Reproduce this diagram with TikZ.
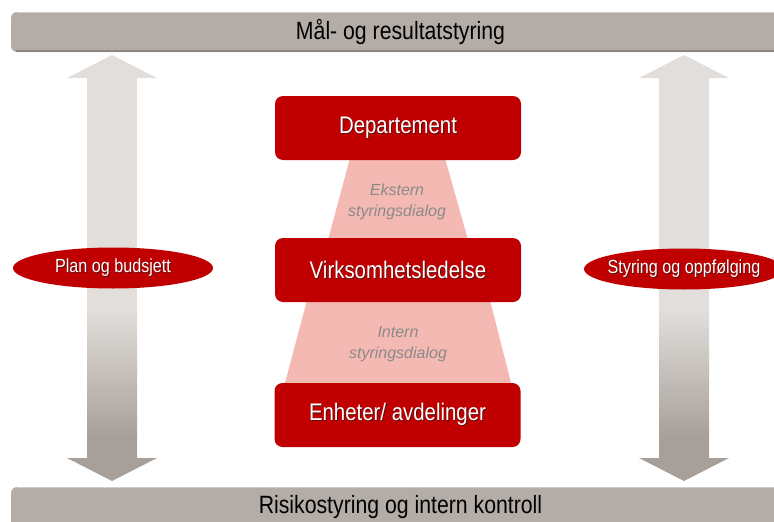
\documentclass[tikz,border=0pt]{standalone}
\usepackage{fontspec}
\setmainfont{Liberation Sans}
\newfontfamily\narrowsans[FakeStretch=0.85]{Liberation Sans}
\usetikzlibrary{shapes.geometric,calc,backgrounds}

\definecolor{boxred}{HTML}{C00000}
\definecolor{dialogpink}{HTML}{F4B9B2}
\definecolor{bargray}{HTML}{B4ADA7}
\definecolor{barshade}{HTML}{8E8781}
\definecolor{barlight}{HTML}{D2CCC7}
\definecolor{arrowlight}{HTML}{E1DEDB}
\definecolor{arrowdark}{HTML}{A79F99}
\definecolor{dialogtext}{HTML}{8A8A8A}
\definecolor{textshade}{HTML}{5A1010}

% vertical fade of the two side arrows: light above, darker towards the bottom
\pgfdeclareverticalshading{arrowfade}{100bp}{color(0bp)=(arrowdark); color(30bp)=(arrowdark); color(45bp)=(arrowlight); color(100bp)=(arrowlight)}

% text with a small drop shadow
\newcommand\castshadow[2]{\leavevmode\rlap{\kern0.9pt\raisebox{-0.9pt}{\textcolor{#1}{#2}}}#2}

\tikzset{
  bar/.style={rectangle, rounded corners=6, fill=bargray, minimum width=779,
    minimum height=40, inner sep=0, text=black,
    font=\narrowsans\fontsize{25}{29}\selectfont},
  unitbox/.style={rectangle, rounded corners=8, fill=boxred, minimum width=246,
    minimum height=64, inner sep=0, text=white,
    font=\narrowsans\fontsize{24}{28}\selectfont},
  topic/.style={ellipse, fill=boxred, minimum width=200, minimum height=41,
    inner sep=0, text=white, font=\narrowsans\fontsize{19}{22}\selectfont},
  dialog/.style={text=dialogtext, align=center, inner sep=0,
    font=\itshape\fontsize{16}{21}\selectfont},
  dialogzone/.style={fill=dialogpink},
  sidearrow/.style={shading=arrowfade},
}

\begin{document}
\begin{tikzpicture}[x=1pt, y=-1pt]
\useasboundingbox (0,0) rectangle (774,522);
\clip (0,0) rectangle (774,522);

% side arrows (double headed)
\coordinate (planaxis) at (112,0);
\coordinate (followaxis) at (684,0);
\foreach \ax in {planaxis, followaxis} {
  \path[sidearrow]
    ($(\ax)+(0,55)$) -- ($(\ax)+(45,78)$) -- ($(\ax)+(25,78)$) --
    ($(\ax)+(25,458)$) -- ($(\ax)+(45,458)$) -- ($(\ax)+(0,481)$) --
    ($(\ax)+(-45,458)$) -- ($(\ax)+(-25,458)$) -- ($(\ax)+(-25,78)$) --
    ($(\ax)+(-45,78)$) -- cycle;
}

% top and bottom bands
\node[bar] (goals) at (400.5,32) {Mål- og resultatstyring};
\node[bar] (risk) at (400.5,507) {Risikostyring og intern kontroll};
\foreach \b in {goals, risk} {
  \draw[barshade, line width=1.6] ($(\b.south west)+(5,-1)$) -- ($(\b.south east)+(0,-1)$);
  \draw[barlight, line width=0.8] ($(\b.north west)+(6,0.6)$) -- ($(\b.north east)+(0,0.6)$);
}

% ovals on the arrows (the label is allowed to reach past the oval's inner box)
\node[topic] (plan) at (113,268) {\makebox[0pt]{\castshadow{textshade}{Plan og budsjett}}};
\node[topic] (follow) at (684,269) {\makebox[0pt]{\castshadow{textshade}{Styring og oppfølging}}};

% organisational levels
\node[unitbox] (dept) at (398,128) {\castshadow{textshade}{Departement}};
\node[unitbox] (mgmt) at (398,270) {\castshadow{textshade}{Virksomhetsledelse}};
\node[unitbox] (units) at (397.5,415) {\castshadow{textshade}{Enheter/ avdelinger}};

% dialogue zones between the levels
\begin{pgfonlayer}{background}
  \fill[dialogzone] ($(dept.south)+(-48,-2)$) -- ($(dept.south)+(47,-2)$) --
    ($(mgmt.north)+(70,2)$) -- ($(mgmt.north)+(-70,2)$) -- cycle;
  \fill[dialogzone] ($(mgmt.south)+(-91,-2)$) -- ($(mgmt.south)+(92,-2)$) --
    ($(units.north)+(114,2)$) -- ($(units.north)+(-113,2)$) -- cycle;
\end{pgfonlayer}

\node[dialog] (extdlg) at (397,202) {Ekstern\\styringsdialog};
\node[dialog] (intdlg) at (398,344) {Intern\\styringsdialog};
\end{tikzpicture}
\end{document}
